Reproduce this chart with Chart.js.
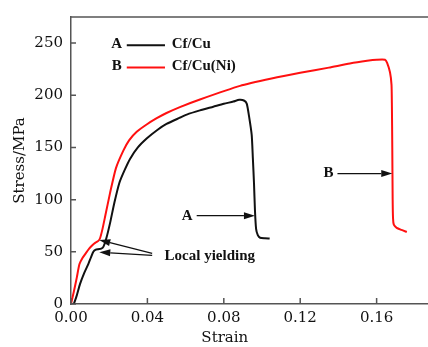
<!DOCTYPE html>
<html>
<head>
<meta charset="utf-8">
<script src="https://cdn.jsdelivr.net/npm/chart.js@4.4.0/dist/chart.umd.min.js"></script>
<style>
  html, body { margin: 0; padding: 0; background: #fff; }
  #wrap { width: 428px; height: 347px; }
</style>
</head>
<body>
<div id="wrap"><canvas id="chart" width="428" height="347"></canvas></div>
<script>
// ===========================================================
// Stress-strain curves: Cf/Cu (A) vs Cf/Cu(Ni) (B)
// ===========================================================

// curve A (black) - Cf/Cu
const strainA = [0.0015, 0.003, 0.0047, 0.007, 0.009, 0.0105, 0.0117, 0.013, 0.0143, 0.0158,
  0.0170, 0.0185, 0.0205, 0.0227, 0.0253, 0.028, 0.0309, 0.035, 0.0396, 0.045,
  0.050, 0.057, 0.0606, 0.0675, 0.0745, 0.080, 0.085, 0.0881, 0.0905, 0.092,
  0.0932, 0.0946, 0.0952, 0.0958, 0.0963, 0.0969, 0.0978, 0.099, 0.1015, 0.104];
const stressA = [0, 8, 19, 30, 38, 45, 50, 52, 52.5, 53,
  55, 63, 78, 97, 116, 128, 139, 150, 158.5, 166.5,
  172.5, 178.5, 181.5, 185.5, 189, 191.8, 194, 195.6, 195, 192,
  180, 162, 140, 116, 90, 72, 66, 63.5, 63, 62.8];

// curve B (red) - Cf/Cu(Ni)
const strainB = [0, 0.0015, 0.003, 0.0044, 0.006, 0.0079, 0.0095, 0.0113, 0.013, 0.0143,
  0.0152, 0.0165, 0.018, 0.0204, 0.0235, 0.0274, 0.0305, 0.0344, 0.0396, 0.0449,
  0.050, 0.057, 0.0675, 0.0885, 0.105, 0.12, 0.135, 0.146, 0.155, 0.16,
  0.1644, 0.1655, 0.167, 0.1678, 0.168, 0.1682, 0.1684, 0.1686, 0.169, 0.1705,
  0.173, 0.1758];
const stressB = [0, 12, 25, 38, 44, 49, 53, 56.5, 59, 60.5,
  63, 72, 85, 106, 130, 147, 157, 165, 172, 178,
  183, 188.7, 196, 209, 216, 221.5, 226.5, 230.5, 233, 234,
  234, 231, 222, 210, 190, 150, 100, 82, 76, 73,
  71, 69];

const strainTicks = [0, 0.04, 0.08, 0.12, 0.16];
const stressTicks = [0, 50, 100, 150, 200, 250];
const seriesTags = ["A", "B"];
const seriesNames = ["Cf/Cu", "Cf/Cu(Ni)"];
const seriesColors = ["#111111", "#ff1010"];

// annotations, in data units [strain, stress]
const arrowA = [[0.0658, 84.6], [0.0963, 84.6]];
const arrowB = [[0.1395, 125], [0.1682, 125]];
const yieldArrows = [
  [[0.0425, 48.5], [0.0148, 61.3]],
  [[0.0425, 46.5], [0.0148, 49.7]]
];
const yieldLabel = [0.049, 45.7];
const legendRows = [249, 227.6];

const FONT = "'DejaVu Serif', serif";
const NOTE_FONT = "bold 15px 'Liberation Serif', serif";

function toPoints(xs, ys) {
  return xs.map((v, i) => ({ x: v, y: ys[i] }));
}

/* ===========================================================
   overlay: frame, inward ticks, titles, legend, arrows
   =========================================================== */
function arrow(ctx, x1, y1, x2, y2) {
  const ang = Math.atan2(y2 - y1, x2 - x1);
  const len = 11, half = 3.5;
  const bx = x2 - len * Math.cos(ang), by = y2 - len * Math.sin(ang);
  ctx.beginPath();
  ctx.moveTo(x1, y1);
  ctx.lineTo(bx, by);
  ctx.stroke();
  ctx.beginPath();
  ctx.moveTo(x2, y2);
  ctx.lineTo(bx - half * Math.sin(ang), by + half * Math.cos(ang));
  ctx.lineTo(bx + half * Math.sin(ang), by - half * Math.cos(ang));
  ctx.closePath();
  ctx.fill();
}

const overlay = {
  id: "overlay",
  afterDraw(chart) {
    const { ctx, chartArea: area, scales: { x, y } } = chart;
    ctx.save();

    // top frame line + inward tick marks
    ctx.strokeStyle = "#555";
    ctx.lineWidth = 1.5;
    ctx.beginPath();
    ctx.moveTo(area.left, area.top);
    ctx.lineTo(area.right, area.top);
    strainTicks.forEach(v => {
      const px = x.getPixelForValue(v);
      ctx.moveTo(px, area.bottom);
      ctx.lineTo(px, area.bottom - 6);
    });
    stressTicks.forEach(v => {
      const py = y.getPixelForValue(v);
      ctx.moveTo(area.left, py);
      ctx.lineTo(area.left + 5, py);
    });
    ctx.stroke();

    // axis titles
    ctx.fillStyle = "#111";
    ctx.font = "15px " + FONT;
    ctx.textAlign = "center";
    ctx.textBaseline = "middle";
    ctx.fillText("Strain", x.getPixelForValue(0.08) + 1, 338);
    ctx.save();
    ctx.translate(20, (area.top + area.bottom) / 2);
    ctx.rotate(-Math.PI / 2);
    ctx.fillText("Stress/MPa", 0, 0);
    ctx.restore();

    // legend
    ctx.font = NOTE_FONT;
    legendRows.forEach((s, i) => {
      const py = y.getPixelForValue(s);
      ctx.fillStyle = "#111";
      ctx.textAlign = "center";
      ctx.fillText(seriesTags[i], x.getPixelForValue(0.0239), py);
      ctx.textAlign = "left";
      ctx.fillText(seriesNames[i], x.getPixelForValue(0.0527), py);
      ctx.strokeStyle = seriesColors[i];
      ctx.lineWidth = 2;
      ctx.beginPath();
      ctx.moveTo(x.getPixelForValue(0.0292), py + 1);
      ctx.lineTo(x.getPixelForValue(0.0492), py + 1);
      ctx.stroke();
    });

    // arrows with labels
    ctx.strokeStyle = "#111";
    ctx.fillStyle = "#111";
    ctx.lineWidth = 1.3;
    [[arrowA, "A"], [arrowB, "B"]].forEach(([a, tag]) => {
      const x1 = x.getPixelForValue(a[0][0]), y1 = y.getPixelForValue(a[0][1]);
      const x2 = x.getPixelForValue(a[1][0]), y2 = y.getPixelForValue(a[1][1]);
      arrow(ctx, x1, y1, x2, y2);
      ctx.textAlign = "right";
      ctx.fillText(tag, x1 - 4, y1);
    });
    yieldArrows.forEach(a => {
      arrow(ctx, x.getPixelForValue(a[0][0]), y.getPixelForValue(a[0][1]),
        x.getPixelForValue(a[1][0]), y.getPixelForValue(a[1][1]));
    });
    ctx.textAlign = "left";
    ctx.fillText("Local yielding", x.getPixelForValue(yieldLabel[0]), y.getPixelForValue(yieldLabel[1]));

    ctx.restore();
  }
};

/* ===========================================================
   chart
   =========================================================== */
const axisBorder = { display: true, color: "#555", width: 1.5 };

new Chart(document.getElementById("chart"), {
  type: "line",
  data: {
    datasets: [
      { label: seriesNames[0], data: toPoints(strainA, stressA), borderColor: seriesColors[0], borderWidth: 2, pointRadius: 0, tension: 0.2, fill: false },
      { label: seriesNames[1], data: toPoints(strainB, stressB), borderColor: seriesColors[1], borderWidth: 2, pointRadius: 0, tension: 0.2, fill: false }
    ]
  },
  options: {
    responsive: false,
    animation: false,
    devicePixelRatio: 1,
    layout: { padding: { top: 9, right: 0, left: 0, bottom: 0 } },
    plugins: { legend: { display: false }, tooltip: { enabled: false } },
    scales: {
      x: {
        type: "linear",
        min: 0,
        max: 0.1869,
        afterBuildTicks: s => { s.ticks = strainTicks.map(v => ({ value: v })); },
        afterFit: s => { s.height = 43; },
        grid: { display: false, drawTicks: false },
        border: axisBorder,
        ticks: { padding: 5, color: "#111", font: { family: FONT, size: 15 }, maxRotation: 0, callback: v => v.toFixed(2) }
      },
      y: {
        type: "linear",
        min: 0,
        max: 275,
        afterBuildTicks: s => { s.ticks = stressTicks.map(v => ({ value: v })); },
        afterFit: s => { s.width = 71; },
        grid: { display: false, drawTicks: false },
        border: axisBorder,
        ticks: { padding: 8, color: "#111", font: { family: FONT, size: 15 }, callback: v => String(v) }
      }
    }
  },
  plugins: [overlay]
});
</script>
</body>
</html>
